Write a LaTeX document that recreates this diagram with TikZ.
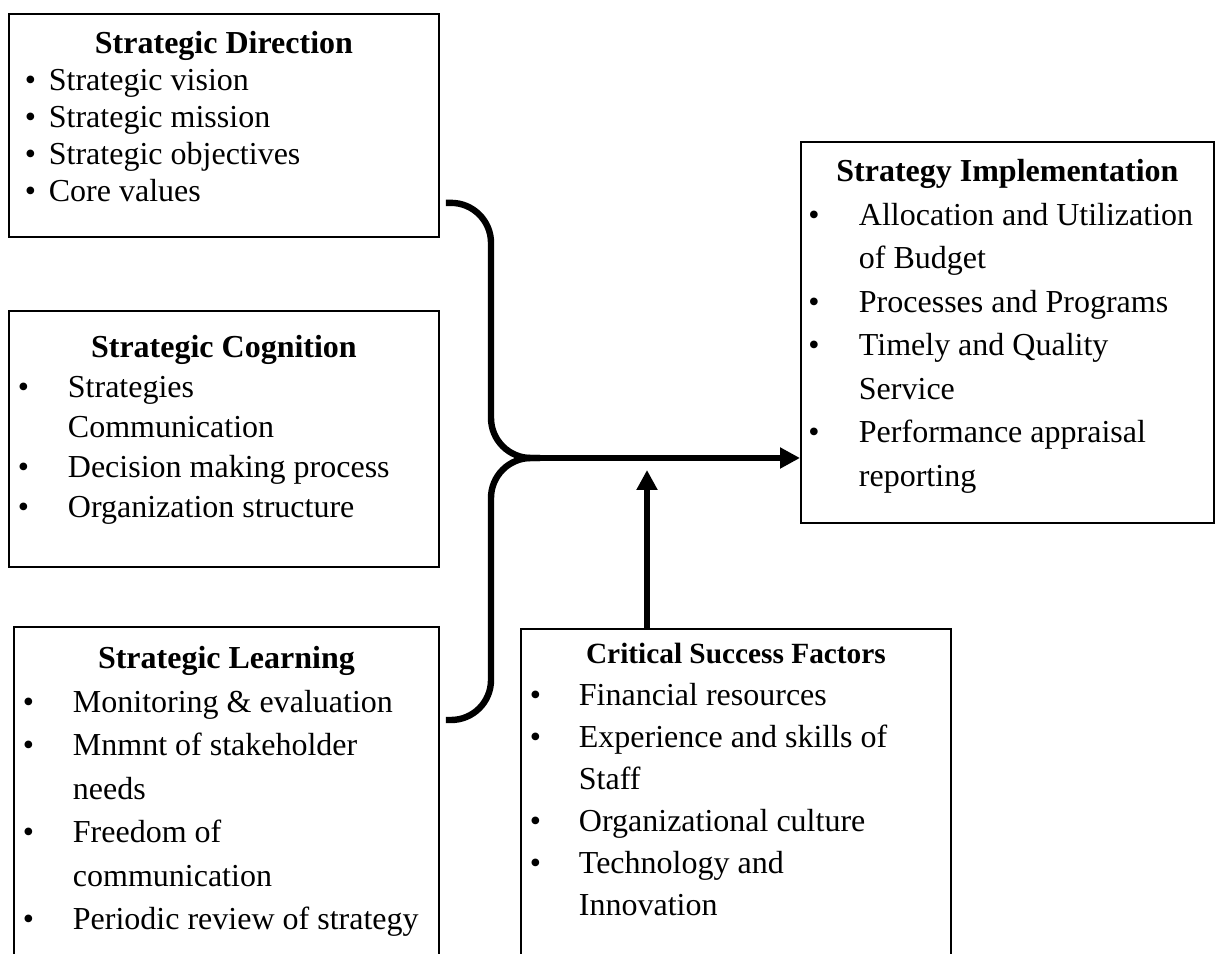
\documentclass[tikz,border=0pt]{standalone}
\usepackage{fontspec}
\setmainfont{Liberation Serif}
\usetikzlibrary{arrows.meta,calc}
\newlength\pxu \setlength\pxu{0.375pt}
\newlength\bulx
\newlength\txtx
\newcommand{\setpanel}[3]{\fontsize{12}{#1\pxu}\selectfont
  \setlength\bulx{#2\pxu}\setlength\txtx{#3\pxu}}
\newcommand{\ptitle}[2]{{\centering\rule{0pt}{#1\pxu}\textbf{#2}\par}}
\newcommand{\bitem}[1]{\hspace*{\bulx}\makebox[\dimexpr\txtx-\bulx\relax][l]{\textbullet}#1\par}
\newcommand{\bmore}[1]{\hspace*{\txtx}#1\par}
\newcommand{\panelbody}[3]{\begin{minipage}[t][#2\pxu][t]{#1\pxu}#3\end{minipage}}
\tikzset{
  panel/.style={draw,line width=0.7pt,inner sep=0pt,anchor=north west},
  brace/.style={line width=2.4pt,rounded corners=15pt},
  flow/.style={-{Triangle[length=7.5pt,width=7.5pt]},line width=2.4pt}
}

\begin{document}
\begin{tikzpicture}[x=\pxu,y=\pxu]
  \useasboundingbox (0,0) rectangle (1218,953);
  \clip (0,0) rectangle (1218,953);

  \node[panel] (sd) at (8,940) {\panelbody{430}{223}{\setpanel{37}{16}{40}
    \ptitle{40}{Strategic Direction}
    \bitem{Strategic vision}
    \bitem{Strategic mission}
    \bitem{Strategic objectives}
    \bitem{Core values}}};
  \node[panel] (sc) at (8,643) {\panelbody{430}{256}{\setpanel{40}{9}{59}
    \ptitle{47}{Strategic Cognition}
    \bitem{Strategies}
    \bmore{Communication}
    \bitem{Decision making process}
    \bitem{Organization structure}}};
  \node[panel] (sl) at (13,327) {\panelbody{425}{340}{\setpanel{43.5}{9}{59}
    \ptitle{42}{Strategic Learning}
    \bitem{Monitoring \& evaluation}
    \bitem{Mnmnt of stakeholder}
    \bmore{needs}
    \bitem{Freedom of}
    \bmore{communication}
    \bitem{Periodic review of strategy}}};
  \node[panel] (csf) at (520,325) {\panelbody{430}{340}{\setpanel{42}{9}{58}
    \ptitle{35}{\fontsize{11}{13}\selectfont Critical Success Factors}
    \bitem{Financial resources}
    \bitem{Experience and skills of}
    \bmore{Staff}
    \bitem{Organizational culture}
    \bitem{Technology and}
    \bmore{Innovation}}};
  \node[panel] (si) at (800,812) {\panelbody{413}{381}{\setpanel{43.5}{7.5}{58}
    \ptitle{40}{Strategy Implementation}
    \bitem{Allocation and Utilization}
    \bmore{of Budget}
    \bitem{Processes and Programs}
    \bitem{Timely and Quality}
    \bmore{Service}
    \bitem{Performance appraisal}
    \bmore{reporting}}};

  % brace gathering the three left panels
  \coordinate (topend) at ($(sd.south east)+(6,35)$);
  \coordinate (botend) at ($(sl.north east)+(6,-94)$);
  \coordinate (fork) at (491,495);
  \coordinate (join) at (540,495);
  \draw[brace] (topend) -| (fork) -- (join);
  \draw[brace] (botend) -| (fork) -- (join);

  \draw[flow] (join) -- (join -| si.west);
  \draw[flow] ($(csf.north west)+(127,0)$) -- ++(0,158);
\end{tikzpicture}
\end{document}
